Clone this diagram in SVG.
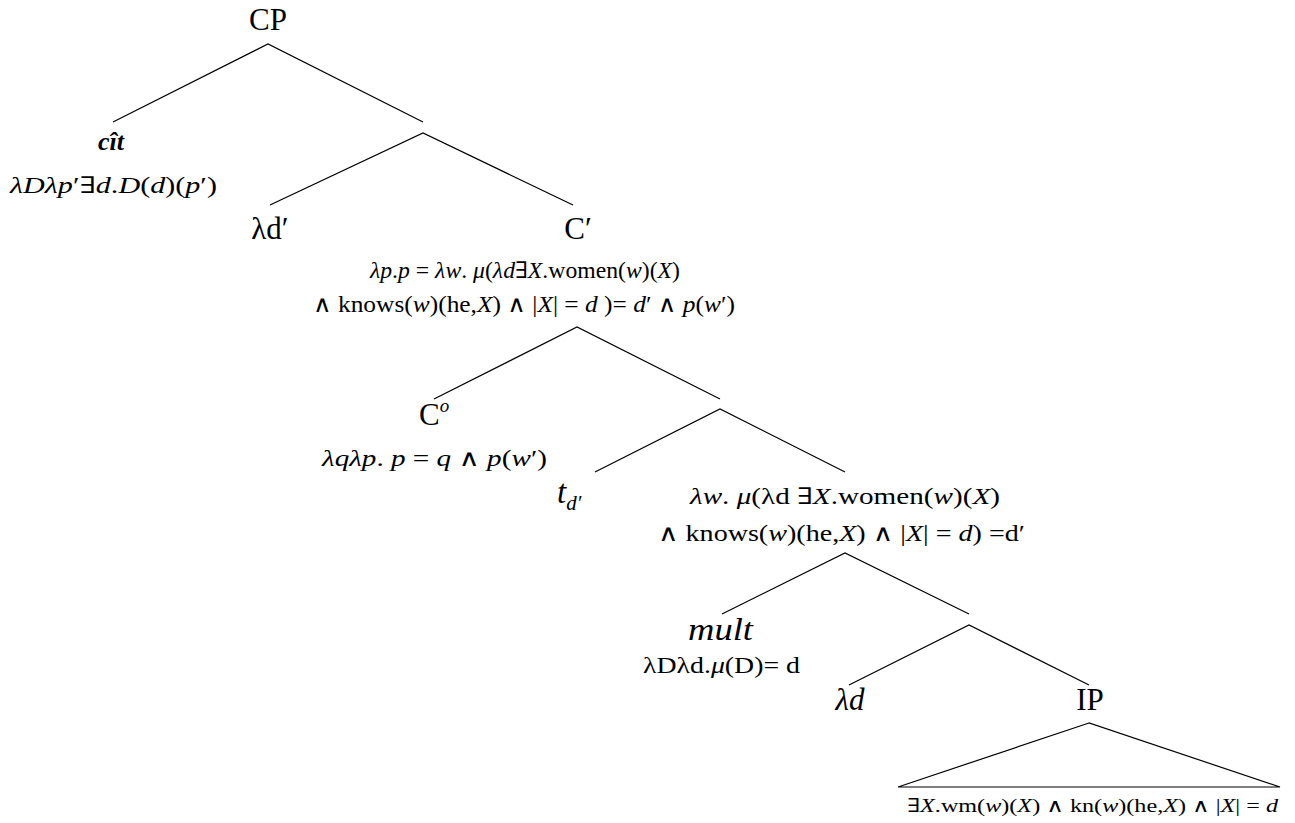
<svg xmlns="http://www.w3.org/2000/svg" width="1295" height="823" viewBox="0 0 1295 823">
<style>
text{font-family:"Liberation Serif","DejaVu Serif",serif;fill:#000}
.lab{font-size:31px}
.f{font-size:23px}
.s{font-size:19px}
.i{font-style:italic}
.op{font-family:"DejaVu Serif",serif;font-weight:normal;font-style:normal}
.edge{stroke:#000;stroke-width:1.2;fill:none}
</style>
<rect width="1295" height="823" fill="#fff"/>
<g id="connectors">
<polyline class="edge" points="113,122 268,44 423,122"/>
<polyline class="edge" points="270,205 423,133 573,205"/>
<polyline class="edge" points="434,399 577,327 720,399"/>
<polyline class="edge" points="595,472 720,409 845,472"/>
<polyline class="edge" points="722,614 845,553 969,614"/>
<polyline class="edge" points="849,685 969,625 1089,685"/>
<polygon class="edge" points="1089,723 898,787 1280,787"/>
</g>
<g id="CP"><text class="lab" x="268" y="30" text-anchor="middle">CP</text></g>
<g id="cit">
<text x="111" y="150" text-anchor="middle" font-size="26" font-weight="bold" font-style="italic">cît</text>
<text class="f" x="10" y="193" textLength="207" lengthAdjust="spacingAndGlyphs"><tspan class="i">λDλp</tspan>′∃<tspan class="i">d</tspan>.<tspan class="i">D</tspan>(<tspan class="i">d</tspan>)(<tspan class="i">p</tspan>′)</text>
</g>
<g id="lambda-d-prime"><text class="lab" x="270" y="239" text-anchor="middle">λd′</text></g>
<g id="C-bar">
<text class="lab" x="578" y="239" text-anchor="middle">C′</text>
<text class="f" x="370" y="278" textLength="310" lengthAdjust="spacingAndGlyphs"><tspan class="i">λp</tspan>.<tspan class="i">p</tspan> = <tspan class="i">λw</tspan>. <tspan class="i">μ</tspan>(<tspan class="i">λd</tspan>∃<tspan class="i">X</tspan>.women(<tspan class="i">w</tspan>)(<tspan class="i">X</tspan>)</text>
<text class="f" x="313" y="312" textLength="422" lengthAdjust="spacingAndGlyphs"><tspan class="op">∧</tspan> knows(<tspan class="i">w</tspan>)(he,<tspan class="i">X</tspan>) <tspan class="op">∧</tspan> |<tspan class="i">X</tspan>| = <tspan class="i">d</tspan> )= <tspan class="i">d</tspan>′ <tspan class="op">∧</tspan> <tspan class="i">p</tspan>(<tspan class="i">w</tspan>′)</text>
</g>
<g id="C0">
<text class="lab" x="419" y="425">C<tspan font-size="19" font-style="italic" dy="-13">o</tspan></text>
<text class="f" x="322" y="466" textLength="225" lengthAdjust="spacingAndGlyphs"><tspan class="i">λqλp</tspan>. <tspan class="i">p</tspan> = <tspan class="i">q</tspan> <tspan class="op">∧</tspan> <tspan class="i">p</tspan>(<tspan class="i">w</tspan>′)</text>
</g>
<g id="t-d"><text class="i" x="557" y="503" font-size="33">t<tspan font-size="21" dy="7">d′</tspan></text></g>
<g id="node-mu">
<text class="f" x="690" y="504" textLength="310" lengthAdjust="spacingAndGlyphs"><tspan class="i">λw</tspan>. <tspan class="i">μ</tspan>(λd ∃<tspan class="i">X</tspan>.women(<tspan class="i">w</tspan>)(<tspan class="i">X</tspan>)</text>
<text class="f" x="658" y="541" textLength="367" lengthAdjust="spacingAndGlyphs"><tspan class="op">∧</tspan> knows(<tspan class="i">w</tspan>)(he,<tspan class="i">X</tspan>) <tspan class="op">∧</tspan> |<tspan class="i">X</tspan>| = <tspan class="i">d</tspan>) =d′</text>
</g>
<g id="mult">
<text class="i" x="688" y="640" font-size="31" textLength="65" lengthAdjust="spacingAndGlyphs">mult</text>
<text class="f" x="643" y="673" textLength="157" lengthAdjust="spacingAndGlyphs">λDλd.<tspan class="i">μ</tspan>(D)= d</text>
</g>
<g id="lambda-d"><text class="i" x="850" y="710" font-size="31" text-anchor="middle">λd</text></g>
<g id="IP">
<text class="lab" x="1090" y="710" text-anchor="middle">IP</text>
<text class="s" x="907" y="812" textLength="371" lengthAdjust="spacingAndGlyphs">∃<tspan class="i">X</tspan>.wm(<tspan class="i">w</tspan>)(<tspan class="i">X</tspan>) <tspan class="op">∧</tspan> kn(<tspan class="i">w</tspan>)(he,<tspan class="i">X</tspan>) <tspan class="op">∧</tspan> |<tspan class="i">X</tspan>| = <tspan class="i">d</tspan></text>
</g>
</svg>
